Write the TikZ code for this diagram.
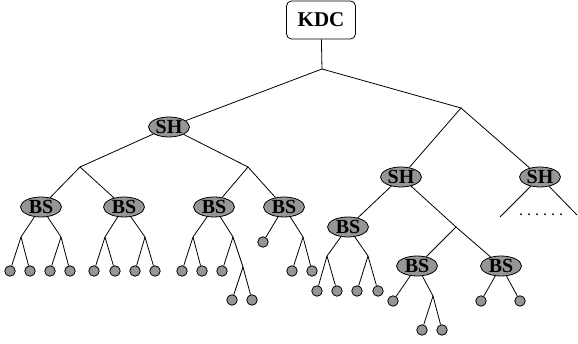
\documentclass[tikz,border=0pt]{standalone}
\usepackage{fontspec}
\setmainfont{Liberation Serif}
\usetikzlibrary{shapes.geometric}
\definecolor{nodegray}{RGB}{150,150,150}
\begin{document}
\begin{tikzpicture}[x=1pt,y=-1pt,line width=0.8pt,
  hub/.style={ellipse,draw,fill=nodegray,minimum width=41pt,minimum height=20pt,
    inner sep=0pt,font=\fontsize{20}{20}\selectfont\bfseries},
  leaf/.style={circle,draw,fill=nodegray,minimum size=10.5pt,inner sep=0pt},
  kdcbox/.style={draw,rounded corners=5pt,minimum width=69pt,minimum height=38pt,
    inner sep=0pt,font=\fontsize{21}{21}\selectfont\bfseries}]
\useasboundingbox (0,0) rectangle (578,344);

% root and upper levels
\node[kdcbox] (kdc) at (321,20) {KDC};
\coordinate (j0) at (322,69);
\coordinate (jR) at (461,108);
\node[hub] (sh1) at (169,127) {SH};
\node[hub] (sh2) at (401,177) {SH};
\node[hub] (sh3) at (540,177) {SH};
\draw (kdc) -- (j0) -- (sh1);
\draw (j0) -- (jR) -- (sh2);
\draw (jR) -- (sh3);

% first subtree
\coordinate (jA) at (80,167);
\coordinate (jB) at (248,167);
\node[hub] (bs1) at (41,207) {BS};
\node[hub] (bs2) at (124,207) {BS};
\node[hub] (bs3) at (214,207) {BS};
\node[hub] (bs4) at (284,207) {BS};
\draw (sh1) -- (jA) -- (bs1);
\draw (jA) -- (bs2);
\draw (sh1) -- (jB) -- (bs3);
\draw (jB) -- (bs4);

% BS 1
\coordinate (a1) at (21,237); \coordinate (a2) at (61,237);
\node[leaf] (l1) at (10,271) {};  \node[leaf] (l2) at (30,271) {};
\node[leaf] (l3) at (50,271) {};  \node[leaf] (l4) at (70,271) {};
\draw (bs1) -- (a1) -- (l1); \draw (a1) -- (l2);
\draw (bs1) -- (a2) -- (l3); \draw (a2) -- (l4);

% BS 2
\coordinate (b1) at (105,237); \coordinate (b2) at (145,237);
\node[leaf] (l5) at (94,271) {};  \node[leaf] (l6) at (115,271) {};
\node[leaf] (l7) at (135,271) {}; \node[leaf] (l8) at (155,271) {};
\draw (bs2) -- (b1) -- (l5); \draw (b1) -- (l6);
\draw (bs2) -- (b2) -- (l7); \draw (b2) -- (l8);

% BS 3
\coordinate (c1) at (193,237); \coordinate (c2) at (233,237);
\coordinate (c3) at (243,267);
\node[leaf] (l9) at (182,271) {};  \node[leaf] (l10) at (202,271) {};
\node[leaf] (l11) at (222,271) {};
\node[leaf] (l12) at (232,300) {}; \node[leaf] (l13) at (252,300) {};
\draw (bs3) -- (c1) -- (l9); \draw (c1) -- (l10);
\draw (bs3) -- (c2) -- (l11); \draw (c2) -- (c3) -- (l12); \draw (c3) -- (l13);

% BS 4
\coordinate (d1) at (303,237);
\node[leaf] (l14) at (263,242) {};
\node[leaf] (l15) at (292,271) {}; \node[leaf] (l16) at (312,271) {};
\draw (bs4) -- (l14);
\draw (bs4) -- (d1) -- (l15); \draw (d1) -- (l16);

% second subtree
\coordinate (jC) at (456,227);
\node[hub] (bs5) at (348,227) {BS};
\node[hub] (bs6) at (417,266) {BS};
\node[hub] (bs7) at (501,266) {BS};
\draw (sh2) -- (bs5);
\draw (sh2) -- (jC) -- (bs6);
\draw (jC) -- (bs7);

% BS 5
\coordinate (e1) at (327,256); \coordinate (e2) at (368,256);
\node[leaf] (l17) at (317,291) {}; \node[leaf] (l18) at (337,291) {};
\node[leaf] (l19) at (357,291) {}; \node[leaf] (l20) at (378,291) {};
\draw (bs5) -- (e1) -- (l17); \draw (e1) -- (l18);
\draw (bs5) -- (e2) -- (l19); \draw (e2) -- (l20);

% BS 6
\coordinate (f1) at (433,296);
\node[leaf] (l21) at (393,301) {};
\node[leaf] (l22) at (422,330) {}; \node[leaf] (l23) at (442,330) {};
\draw (bs6) -- (l21);
\draw (bs6) -- (f1) -- (l22); \draw (f1) -- (l23);

% BS 7
\node[leaf] (l24) at (481,301) {}; \node[leaf] (l25) at (520,301) {};
\draw (bs7) -- (l24); \draw (bs7) -- (l25);

% third subtree, elided
\coordinate (g1) at (500,217);
\coordinate (g2) at (577,215);
\draw (sh3) -- (g1);
\draw (sh3) -- (g2);
\node[inner sep=0pt,font=\fontsize{16}{16}\selectfont] (more) at (541,214.5)
  {.\kern4pt.\kern4pt.\kern4pt.\kern4pt.\kern4pt.};
\end{tikzpicture}
\end{document}
